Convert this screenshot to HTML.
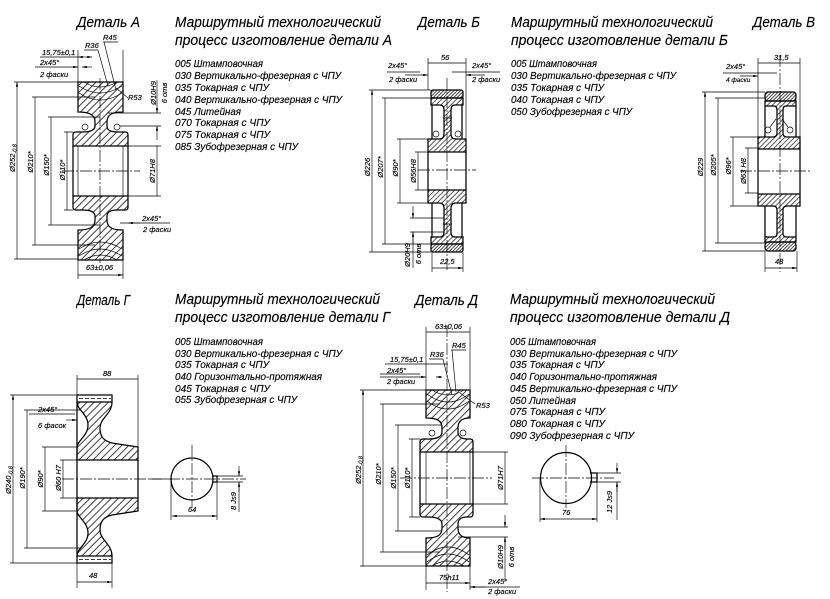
<!DOCTYPE html>
<html><head><meta charset="utf-8"><style>
html,body{margin:0;padding:0;background:#fff}
svg{display:block}
.t{font-family:"Liberation Sans","DejaVu Sans",sans-serif;font-style:italic;fill:#000;stroke:#000;stroke-width:0.15}
.c{stroke:#000;stroke-width:1.25;fill:none}
.th{stroke:#000;stroke-width:0.65;fill:none}
.cl{stroke:#000;stroke-width:0.65;stroke-dasharray:12 2 2 2;fill:none}
.d{stroke:#000;stroke-width:0.65;fill:none;marker-start:url(#ar);marker-end:url(#ar)}
.d1{stroke:#000;stroke-width:0.65;fill:none;marker-end:url(#ar)}
</style></head><body>
<svg width="830" height="599" viewBox="0 0 830 599" xmlns="http://www.w3.org/2000/svg">
<defs>
<marker id="ar" viewBox="0 0 8 4" refX="8" refY="2" markerWidth="7" markerHeight="2.4" orient="auto-start-reverse" markerUnits="userSpaceOnUse"><path d="M0,0L8,2L0,4z" fill="#000"/></marker>
<pattern id="h1" patternUnits="userSpaceOnUse" width="5" height="5" patternTransform="rotate(45)"><line x1="1" y1="0" x2="1" y2="5" stroke="#000" stroke-width="0.75"/></pattern>
<pattern id="h2" patternUnits="userSpaceOnUse" width="2.4" height="4" patternTransform="rotate(45)"><line x1="1" y1="0" x2="1" y2="4" stroke="#000" stroke-width="0.7"/></pattern>
<pattern id="h3" patternUnits="userSpaceOnUse" width="3.5" height="4" patternTransform="rotate(45)"><line x1="1" y1="0" x2="1" y2="4" stroke="#000" stroke-width="0.65"/></pattern>
</defs>
<rect width="830" height="599" fill="#fff"/>

<!-- ===== TITLES & LISTS ===== -->
<g class="t" font-size="15">
<text x="77" y="27" textLength="63" lengthAdjust="spacingAndGlyphs">Деталь А</text>
<text x="175" y="27" textLength="206" lengthAdjust="spacingAndGlyphs">Маршрутный технологический</text>
<text x="175" y="45" textLength="217" lengthAdjust="spacingAndGlyphs">процесс изготовление детали А</text>
<text x="418" y="27" textLength="62" lengthAdjust="spacingAndGlyphs">Деталь Б</text>
<text x="511" y="27" textLength="202" lengthAdjust="spacingAndGlyphs">Маршрутный технологический</text>
<text x="511" y="45" textLength="217" lengthAdjust="spacingAndGlyphs">процесс изготовление детали Б</text>
<text x="753" y="27" textLength="62" lengthAdjust="spacingAndGlyphs">Деталь В</text>
<text x="77" y="305" textLength="53" lengthAdjust="spacingAndGlyphs">Деталь Г</text>
<text x="175" y="304" textLength="205" lengthAdjust="spacingAndGlyphs">Маршрутный технологический</text>
<text x="175" y="322" textLength="215" lengthAdjust="spacingAndGlyphs">процесс изготовление детали Г</text>
<text x="415" y="305" textLength="63" lengthAdjust="spacingAndGlyphs">Деталь Д</text>
<text x="510" y="304" textLength="205" lengthAdjust="spacingAndGlyphs">Маршрутный технологический</text>
<text x="510" y="322" textLength="220" lengthAdjust="spacingAndGlyphs">процесс изготовление детали Д</text>
</g>
<g class="t" font-size="10.5">
<text x="175" y="67" textLength="88" lengthAdjust="spacingAndGlyphs">005 Штамповочная</text>
<text x="175" y="79" textLength="166" lengthAdjust="spacingAndGlyphs">030 Вертикально-фрезерная с ЧПУ</text>
<text x="175" y="91" textLength="94" lengthAdjust="spacingAndGlyphs">035 Токарная с ЧПУ</text>
<text x="175" y="103" textLength="167" lengthAdjust="spacingAndGlyphs">040 Вертикально-фрезерная с ЧПУ</text>
<text x="175" y="115" textLength="66" lengthAdjust="spacingAndGlyphs">045 Литейная</text>
<text x="175" y="126" textLength="95" lengthAdjust="spacingAndGlyphs">070 Токарная с ЧПУ</text>
<text x="175" y="138" textLength="95" lengthAdjust="spacingAndGlyphs">075 Токарная с ЧПУ</text>
<text x="175" y="150" textLength="123" lengthAdjust="spacingAndGlyphs">085 Зубофрезерная с ЧПУ</text>

<text x="511" y="67" textLength="86" lengthAdjust="spacingAndGlyphs">005 Штамповочная</text>
<text x="511" y="79" textLength="165" lengthAdjust="spacingAndGlyphs">030 Вертикально-фрезерная с ЧПУ</text>
<text x="511" y="91" textLength="93" lengthAdjust="spacingAndGlyphs">035 Токарная с ЧПУ</text>
<text x="511" y="103" textLength="93" lengthAdjust="spacingAndGlyphs">040 Токарная с ЧПУ</text>
<text x="511" y="115" textLength="121" lengthAdjust="spacingAndGlyphs">050 Зубофрезерная с ЧПУ</text>

<text x="175" y="345" textLength="88" lengthAdjust="spacingAndGlyphs">005 Штамповочная</text>
<text x="175" y="357" textLength="167" lengthAdjust="spacingAndGlyphs">030 Вертикально-фрезерная с ЧПУ</text>
<text x="175" y="368" textLength="94" lengthAdjust="spacingAndGlyphs">035 Токарная с ЧПУ</text>
<text x="175" y="380" textLength="147" lengthAdjust="spacingAndGlyphs">040 Горизонтально-протяжная</text>
<text x="175" y="392" textLength="95" lengthAdjust="spacingAndGlyphs">045 Токарная с ЧПУ</text>
<text x="175" y="403" textLength="122" lengthAdjust="spacingAndGlyphs">055 Зубофрезерная с ЧПУ</text>

<text x="510" y="345" textLength="86" lengthAdjust="spacingAndGlyphs">005 Штамповочная</text>
<text x="510" y="357" textLength="167" lengthAdjust="spacingAndGlyphs">030 Вертикально-фрезерная с ЧПУ</text>
<text x="510" y="368" textLength="94" lengthAdjust="spacingAndGlyphs">035 Токарная с ЧПУ</text>
<text x="510" y="380" textLength="147" lengthAdjust="spacingAndGlyphs">040 Горизонтально-протяжная</text>
<text x="510" y="392" textLength="167" lengthAdjust="spacingAndGlyphs">045 Вертикально-фрезерная с ЧПУ</text>
<text x="510" y="404" textLength="66" lengthAdjust="spacingAndGlyphs">050 Литейная</text>
<text x="510" y="415" textLength="95" lengthAdjust="spacingAndGlyphs">075 Токарная с ЧПУ</text>
<text x="510" y="427" textLength="95" lengthAdjust="spacingAndGlyphs">080 Токарная с ЧПУ</text>
<text x="510" y="439" textLength="124" lengthAdjust="spacingAndGlyphs">090 Зубофрезерная с ЧПУ</text>
</g>

<!-- ===== ДЕТАЛЬ А ===== -->
<path class="c" style="fill:url(#h1)" d="M78,82H123V112C113,112 107,114 107,122V126C107,131 112,132 118,132H125Q128,132 128,135V146H73V135Q73,132 76,132H82C88,132 95,131 95,126V122C95,114 88,112 78,112Z"/>
<path class="c" style="fill:url(#h1)" d="M78,260H123V230C113,230 107,228 107,220V216C107,211 112,210 118,210H125Q128,210 128,207V196H73V207Q73,210 76,210H82C88,210 95,211 95,216V220C95,228 88,230 78,230Z"/>
<path class="c" d="M73,146V196M128,146V196"/>
<path class="th" d="M78,146V196M123,146V196"/>
<path class="th" d="M79,86Q100,100 122,86M79,93Q100,107 122,93M84,82Q100,92 117,82M79,256Q100,242 122,256M79,249Q100,235 122,249M84,260Q100,250 117,260"/>
<circle cx="85" cy="127" r="3" class="th" fill="#fff"/><circle cx="117" cy="127" r="3" class="th" fill="#fff"/>
<path class="cl" d="M62,171H140M100,78V263"/>
<path class="th" d="M14,82H78M14,259H78M32,97H95M32,245H95M48,117H100M48,225H100M64,132H73M64,210H73M128,146H161M128,196H161M107,113H161M120,126H161M78,50V82M123,50V82M78,260V279M123,260V279"/>
<path class="d" d="M17,82V259M35,97V245M51,117V225M67,132V210M157,146V196M78,275H123"/>
<path class="d1" d="M157,80V113"/><path class="d1" d="M157,140V126"/>
<path class="th" d="M40,57H78M103,42H118M84,50H98M98,50L108,86M104,42L116,90M128,98L116,88M120,223H170"/>
<path class="d" d="M78,57H92"/>
<path class="d1" d="M35,67H78"/><path class="d1" d="M92,67H82"/>
<path class="d1" d="M140,223H128"/>
<g class="t" font-size="7.5">
<text x="42" y="55">15,75±0,1</text>
<text x="40" y="65">2x45°</text>
<text x="40" y="77">2 фаски</text>
<text x="103" y="40">R45</text>
<text x="85" y="48">R36</text>
<text x="128" y="100">R53</text>
<text x="142" y="221">2x45°</text>
<text x="143" y="232">2 фаски</text>
<text x="86" y="270">63±0,06</text>
<text text-anchor="middle" transform="translate(15,158) rotate(-90)">Ø252<tspan font-size="5.5" dy="1.5">-0,8</tspan></text>
<text text-anchor="middle" transform="translate(33,162) rotate(-90)">Ø210*</text>
<text text-anchor="middle" transform="translate(49,165) rotate(-90)">Ø150*</text>
<text text-anchor="middle" transform="translate(65,170) rotate(-90)">Ø110*</text>
<text text-anchor="middle" transform="translate(155,171) rotate(-90)">Ø71H8</text>
<text text-anchor="middle" transform="translate(156,93) rotate(-90)">Ø10H9</text>
<text text-anchor="middle" transform="translate(167,93) rotate(-90)">6 отв</text>
</g>

<!-- ===== ДЕТАЛЬ Б ===== -->
<rect x="431" y="90" width="32" height="8" rx="2" class="c" style="fill:url(#h2)"/>
<rect x="431" y="244" width="32" height="8" rx="2" class="c" style="fill:url(#h2)"/>
<path class="c" style="fill:url(#h3)" d="M431,98H463V105H455Q451,105 451,110V134Q451,139 456,139H466V152H428V139H439Q444,139 444,134V110Q444,105 440,105H431Z"/>
<path class="c" style="fill:url(#h3)" d="M431,244H463V237H455Q451,237 451,232V208Q451,203 456,203H466V190H428V203H439Q444,203 444,208V232Q444,237 440,237H431Z"/>
<path class="c" d="M432,105V139M462,105V139M432,203V237M462,203V237M428,152V190M466,152V190"/>
<circle cx="436" cy="134" r="3" class="th" fill="#fff"/><circle cx="458" cy="134" r="3" class="th" fill="#fff"/>
<path class="th" d="M443,118H452M443,224H452"/>
<path class="cl" d="M418,170H476M447,78V270"/>
<path class="th" d="M369,90H431M369,252H431M382,98H431M382,244H431M397,139H428M397,203H428M415,152H428M415,190H428M410,218H444M410,232H444M428,58V90M466,58V139M432,252V272M463,252V272M413,232V268"/>
<path class="d" d="M372,90V252M385,98V244M400,139V203M418,152V190M428,63H466M432,268H463"/>
<path class="d1" d="M413,206V218"/><path class="d1" d="M413,244V232"/>
<path class="th" d="M387,72H420M452,72H500"/>
<path class="d1" d="M405,75H428"/><path class="d1" d="M485,75H466"/>
<g class="t" font-size="7.5">
<text x="441" y="60">56</text>
<text x="388" y="68">2x45°</text>
<text x="389" y="82">2 фаски</text>
<text x="472" y="68">2x45°</text>
<text x="472" y="82">2 фаски</text>
<text x="440" y="264">22,5</text>
<text text-anchor="middle" transform="translate(370,167) rotate(-90)">Ø226</text>
<text text-anchor="middle" transform="translate(383,167) rotate(-90)">Ø207*</text>
<text text-anchor="middle" transform="translate(398,168) rotate(-90)">Ø90*</text>
<text text-anchor="middle" transform="translate(416,171) rotate(-90)">Ø56H8</text>
<text text-anchor="middle" transform="translate(410,255) rotate(-90)">Ø20H9</text>
<text text-anchor="middle" transform="translate(421,254) rotate(-90)">6 отв</text>
</g>

<!-- ===== ДЕТАЛЬ В ===== -->
<rect x="765" y="92" width="31" height="9" rx="3" class="c" style="fill:url(#h2)"/>
<rect x="765" y="242" width="31" height="9" rx="3" class="c" style="fill:url(#h2)"/>
<path class="c" style="fill:url(#h3)" d="M765,101H796V106H786Q783,106 783,110V133Q783,137 787,137H800V149H758V137H773Q777,137 777,133V110Q777,106 774,106H765Z"/>
<path class="c" style="fill:url(#h3)" d="M765,242H796V237H786Q783,237 783,233V210Q783,206 787,206H800V194H758V206H773Q777,206 777,210V233Q777,237 774,237H765Z"/>
<path class="c" d="M765,106V137M796,106V137M765,206V237M796,206V237M758,149V194M800,149V194"/>
<circle cx="768" cy="130" r="3" class="th" fill="#fff"/><circle cx="790" cy="130" r="3" class="th" fill="#fff"/>
<path class="th" d="M770,127L776,119M788,127L782,119"/>
<path class="cl" d="M740,171H812M780,55V272"/>
<path class="th" d="M702,92H765M702,251H765M715,98H765M715,243H765M730,137H758M730,206H758M745,148H758M745,193H758M758,58V137M800,58V137M765,251V272M797,251V272M723,73H777"/>
<path class="d" d="M705,92V251M718,98V243M733,137V206M748,148V193M758,63H800M765,268H797"/>
<path class="d1" d="M740,76H758"/>
<g class="t" font-size="7.5">
<text x="774" y="60">31,5</text>
<text x="726" y="69">2x45°</text>
<text x="726" y="82" font-size="6.5">4 фаски</text>
<text x="775" y="264">48</text>
<text text-anchor="middle" transform="translate(703,167) rotate(-90)">Ø229</text>
<text text-anchor="middle" transform="translate(716,165) rotate(-90)">Ø205*</text>
<text text-anchor="middle" transform="translate(731,166) rotate(-90)">Ø96*</text>
<text text-anchor="middle" transform="translate(746,171) rotate(-90)">Ø63 H8</text>
</g>

<!-- ===== ДЕТАЛЬ Г ===== -->
<path class="c" d="M77,395H112V402M77,563H112V556"/>
<path class="th" stroke-dasharray="4 2" d="M79,398.5H111M79,559.5H111"/>
<path class="c" style="fill:url(#h1)" d="M77,402H112C112,414 100,418 100,428C100,437 104,441 112,443L138,447V460H77V447C77,441 88,436 88,425C88,414 77,410 77,402Z"/>
<path class="c" style="fill:url(#h1)" d="M77,556H112C112,544 100,540 100,530C100,521 104,517 112,515L138,511V498H77V511C77,517 88,522 88,533C88,544 77,548 77,556Z"/>
<path class="c" d="M77,395V563M138,460V498"/>
<path class="cl" d="M62,479H172"/>
<path class="th" d="M10,395H77M10,563H77M24,410H80M24,548H80M42,447H77M42,511H77M60,460H77M60,498H77M77,375V395M138,375V447M77,563V588M112,563V588M29,414H75"/>
<path class="d" d="M13,395V563M27,410V548M45,447V511M63,460V498M77,379H138M77,582H112"/>
<path class="d1" d="M66,420H77"/>
<g class="t" font-size="7.5">
<text x="103" y="376">88</text>
<text x="38" y="412">2x45°</text>
<text x="38" y="428">6 фасок</text>
<text x="89" y="578">48</text>
<text text-anchor="middle" transform="translate(11,480) rotate(-90)">Ø240<tspan font-size="5.5" dy="1.5">-0,8</tspan></text>
<text text-anchor="middle" transform="translate(25,478) rotate(-90)">Ø190*</text>
<text text-anchor="middle" transform="translate(43,479) rotate(-90)">Ø90*</text>
<text text-anchor="middle" transform="translate(61,478) rotate(-90)">Ø60 H7</text>
</g>
<!-- section Г -->
<circle cx="192" cy="479" r="21" class="c"/>
<path class="c" d="M212,476H217V482H212"/>
<path class="cl" d="M150,479H246M192,445V508"/>
<path class="th" d="M217,476H243M217,482H243M171,479V520M217,482V520M239,482V512"/>
<path class="d" d="M172,516H217"/>
<path class="d1" d="M239,466V476"/><path class="d1" d="M239,492V482"/>
<g class="t" font-size="7.5">
<text x="188" y="512">64</text>
<text text-anchor="middle" transform="translate(236,501) rotate(-90)">8 Js9</text>
</g>

<!-- ===== ДЕТАЛЬ Д ===== -->
<path class="c" style="fill:url(#h1)" d="M426,390H470V418C462,418 458,421 458,428V432C458,437 462,439 467,439H470Q473,439 473,442V452H420V442Q420,439 423,439H429C436,439 442,437 442,432V428C442,421 438,418 426,418Z"/>
<path class="c" style="fill:url(#h1)" d="M426,566H470V538C462,538 458,535 458,528V524C458,519 462,517 467,517H470Q473,517 473,514V504H420V514Q420,517 423,517H429C436,517 442,519 442,524V528C442,535 438,538 426,538Z"/>
<path class="c" d="M420,452V504M473,452V504"/>
<path class="th" d="M426,452V504M470,452V504"/>
<path class="th" d="M427,394Q448,410 469,394M427,401Q448,417 469,401M432,390Q448,400 464,390M427,562Q448,546 469,562M427,555Q448,539 469,555M432,566Q448,556 464,566"/>
<circle cx="432" cy="433" r="3" class="th" fill="#fff"/><circle cx="463" cy="433" r="3" class="th" fill="#fff"/>
<path class="cl" d="M400,478H492M447,325V592"/>
<path class="th" d="M360,390H426M360,566H426M380,404H440M380,552H440M395,425H442M395,531H442M409,439H420M409,517H420M473,452H508M473,504H508M458,527H508M458,537H508M426,327V390M470,327V390M426,566V590M470,566V590M505,537V582"/>
<path class="d" d="M363,390V566M383,404V552M398,425V531M412,439V517M505,452V504M426,332H470M426,583H470"/>
<path class="d1" d="M505,515V527"/><path class="d1" d="M505,550V537"/>
<path class="th" d="M385,364H448M451,350H466M429,359H443M452,350L456,392M443,359L452,395M475,404L460,393M380,374H420M470,587H520"/>
<path class="d1" d="M380,377H426"/><path class="d1" d="M442,377H436"/>
<path class="d1" d="M485,587H470"/>
<g class="t" font-size="7.5">
<text x="435" y="329">63±0,06</text>
<text x="452" y="348">R45</text>
<text x="430" y="357">R36</text>
<text x="390" y="362">15,75±0,1</text>
<text x="387" y="373">2x45°</text>
<text x="387" y="384">2 фаски</text>
<text x="476" y="408">R53</text>
<text x="439" y="580">75h11</text>
<text x="488" y="584">2x45°</text>
<text x="488" y="594">2 фаски</text>
<text text-anchor="middle" transform="translate(361,470) rotate(-90)">Ø252<tspan font-size="5.5" dy="1.5">-0,8</tspan></text>
<text text-anchor="middle" transform="translate(381,474) rotate(-90)">Ø210*</text>
<text text-anchor="middle" transform="translate(396,478) rotate(-90)">Ø150*</text>
<text text-anchor="middle" transform="translate(410,478) rotate(-90)">Ø110*</text>
<text text-anchor="middle" transform="translate(503,478) rotate(-90)">Ø71H7</text>
<text text-anchor="middle" transform="translate(503,557) rotate(-90)">Ø10H9</text>
<text text-anchor="middle" transform="translate(514,557) rotate(-90)">6 отв</text>
</g>
<!-- section Д -->
<circle cx="566" cy="478" r="25.5" class="c"/>
<path class="c" d="M590,473H597V482H590"/>
<path class="cl" d="M532,478H614M566,445V508"/>
<path class="th" d="M597,473H621M597,482H621M540,478V522M597,482V522M617,482V520"/>
<path class="d" d="M540,519H597"/>
<path class="d1" d="M617,463V473"/><path class="d1" d="M617,492V482"/>
<g class="t" font-size="7.5">
<text x="562" y="515">76</text>
<text text-anchor="middle" transform="translate(612,502) rotate(-90)">12 Js9</text>
</g>
</svg>
</body></html>
